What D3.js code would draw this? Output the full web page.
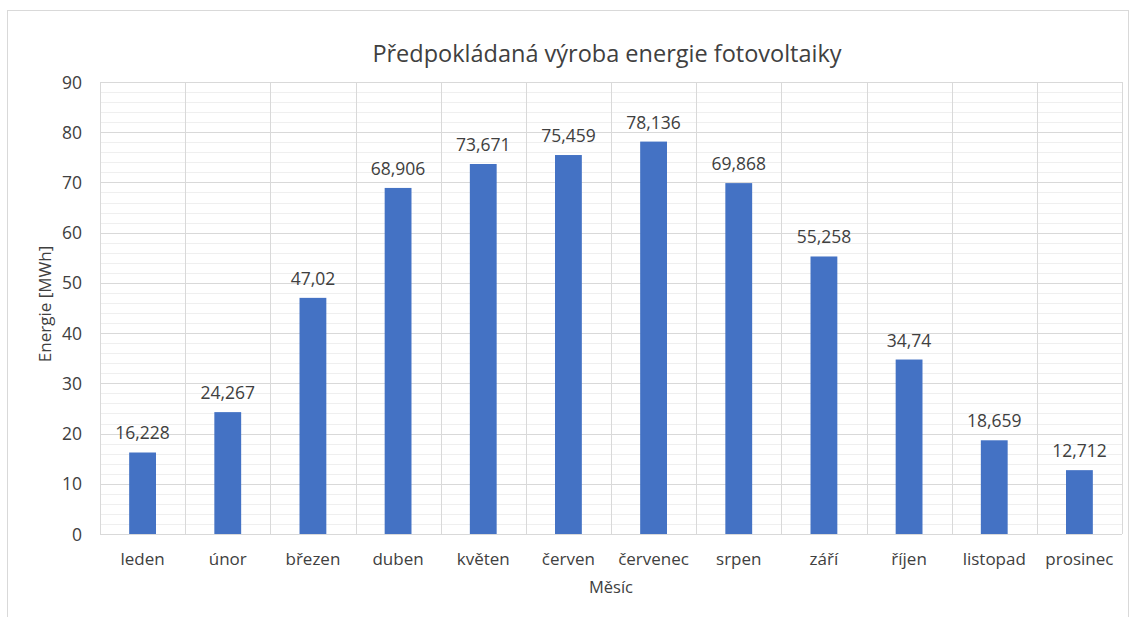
<!DOCTYPE html>
<html>
<head>
<meta charset="utf-8">
<script src="https://cdn.jsdelivr.net/npm/d3@7"></script>
<style>
  body { margin: 0; background: #fff; }
  text { font-family: "Open Sans", "Noto Sans", sans-serif; fill: #404040; }
</style>
</head>
<body>
<div id="chart"></div>
<script>
// Chart data
const months = ["leden", "únor", "březen", "duben", "květen", "červen", "červenec", "srpen", "září", "říjen", "listopad", "prosinec"];
const energy = [16.228, 24.267, 47.02, 68.906, 73.671, 75.459, 78.136, 69.868, 55.258, 34.74, 18.659, 12.712];
const valueLabels = ["16,228", "24,267", "47,02", "68,906", "73,671", "75,459", "78,136", "69,868", "55,258", "34,74", "18,659", "12,712"];
const yTicks = [0, 10, 20, 30, 40, 50, 60, 70, 80, 90];
const minorTicks = d3.range(0, 90, 2);

const width = 1132, height = 617;
const margin = { left: 100, right: 10, top: 82, bottom: 83 };

const svg = d3.select("#chart").append("svg")
    .attr("width", width)
    .attr("height", height);

// outer chart border
svg.append("rect")
    .attr("x", 7.5).attr("y", 10.5)
    .attr("width", 1121).attr("height", 620)
    .attr("fill", "none")
    .attr("stroke", "#d9d9d9");

const x = d3.scaleBand()
    .domain(months)
    .range([margin.left, width - margin.right])
    .paddingInner(0.685)
    .paddingOuter(0.3425);

const xGrid = d3.scaleBand()
    .domain(months)
    .range([margin.left, width - margin.right]);

const y = d3.scaleLinear()
    .domain([0, 90])
    .range([height - margin.bottom, margin.top]);

// minor gridlines
svg.append("g").selectAll("line")
    .data(minorTicks.filter(d => d % 10 !== 0))
    .enter().append("line")
    .attr("x1", margin.left).attr("x2", width - margin.right)
    .attr("y1", d => Math.round(y(d)) + 0.5)
    .attr("y2", d => Math.round(y(d)) + 0.5)
    .attr("stroke", "#efefef");

// major gridlines
svg.append("g").selectAll("line")
    .data(yTicks)
    .enter().append("line")
    .attr("x1", margin.left).attr("x2", width - margin.right)
    .attr("y1", d => Math.round(y(d)) + 0.5)
    .attr("y2", d => Math.round(y(d)) + 0.5)
    .attr("stroke", "#d9d9d9");

// vertical gridlines at category boundaries
const boundaries = months.map(m => xGrid(m)).concat([width - margin.right]);
svg.append("g").selectAll("line")
    .data(boundaries)
    .enter().append("line")
    .attr("x1", d => Math.round(d) + 0.5).attr("x2", d => Math.round(d) + 0.5)
    .attr("y1", margin.top).attr("y2", height - margin.bottom)
    .attr("stroke", "#d9d9d9");

// bars
svg.append("g").selectAll("rect")
    .data(energy)
    .enter().append("rect")
    .attr("x", (d, i) => x(months[i]))
    .attr("y", d => y(d))
    .attr("width", x.bandwidth())
    .attr("height", d => y(0) - y(d))
    .attr("fill", "#4472c4");

// value labels
svg.append("g").selectAll("text")
    .data(energy)
    .enter().append("text")
    .attr("x", (d, i) => x(months[i]) + x.bandwidth() / 2)
    .attr("y", d => y(d) - 13)
    .attr("text-anchor", "middle")
    .attr("font-size", 17.5)
    .text((d, i) => valueLabels[i]);

// y axis labels
svg.append("g").selectAll("text")
    .data(yTicks)
    .enter().append("text")
    .attr("x", 82)
    .attr("y", d => y(d) + 6.5)
    .attr("text-anchor", "end")
    .attr("font-size", 17.5)
    .text(d => d);

// x axis labels
svg.append("g").selectAll("text")
    .data(months)
    .enter().append("text")
    .attr("x", d => xGrid(d) + xGrid.bandwidth() / 2)
    .attr("y", 565)
    .attr("text-anchor", "middle")
    .attr("font-size", 17)
    .text(d => d);

// title
svg.append("text")
    .attr("x", 607).attr("y", 62)
    .attr("text-anchor", "middle")
    .attr("font-size", 23.5)
    .text("Předpokládaná výroba energie fotovoltaiky");

// axis titles
svg.append("text")
    .attr("x", 611).attr("y", 593)
    .attr("text-anchor", "middle")
    .attr("font-size", 16.5)
    .text("Měsíc");

svg.append("text")
    .attr("transform", "translate(51,304) rotate(-90)")
    .attr("text-anchor", "middle")
    .attr("font-size", 17)
    .text("Energie [MWh]");
</script>
</body>
</html>
